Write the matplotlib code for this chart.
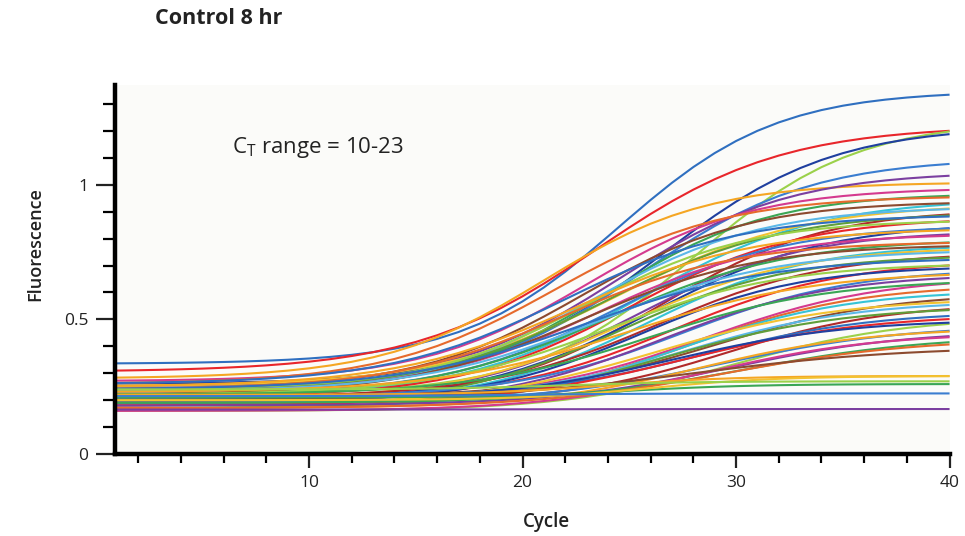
import matplotlib
matplotlib.use('Agg')
import matplotlib.pyplot as plt
from matplotlib.ticker import FixedLocator
import numpy as np

plt.rcParams['font.family'] = ['Open Sans', 'DejaVu Sans']

cycles = np.arange(1, 41)

# per-well amplification parameters
baseline = [0.335, 0.305, 0.22, 0.26, 0.24, 0.28, 0.25, 0.27, 0.23, 0.26,
            0.21, 0.24, 0.25, 0.22, 0.20, 0.23, 0.26, 0.21, 0.24, 0.19,
            0.22, 0.25, 0.20, 0.23, 0.21, 0.24, 0.19, 0.22, 0.20, 0.23,
            0.21, 0.18, 0.24, 0.20, 0.22, 0.19, 0.21, 0.23, 0.18, 0.20,
            0.22, 0.19, 0.17, 0.21, 0.18, 0.20, 0.19, 0.17, 0.21, 0.18,
            0.16, 0.20, 0.19, 0.17, 0.18, 0.16, 0.19, 0.17, 0.20, 0.22,
            0.21, 0.20, 0.215, 0.165, 0.24]
plateau = [1.35, 1.22, 1.24, 1.22, 1.10, 1.01, 1.05, 0.99, 0.97, 0.96,
           0.95, 0.94, 0.93, 0.92, 0.91, 0.90, 0.89, 0.88, 0.87, 0.86,
           0.85, 0.84, 0.83, 0.82, 0.80, 0.79, 0.78, 0.78, 0.77, 0.76,
           0.75, 0.74, 0.73, 0.72, 0.71, 0.70, 0.69, 0.68, 0.67, 0.66,
           0.65, 0.63, 0.61, 0.60, 0.58, 0.57, 0.56, 0.55, 0.53, 0.52,
           0.51, 0.50, 0.48, 0.47, 0.46, 0.45, 0.44, 0.43, 0.40, 0.29,
           0.26, 0.29, 0.225, 0.167, 0.27]
midpoint = [24.5, 23.5, 28.0, 26.5, 25.5, 21.0, 24.5, 23.0, 24.0, 21.5,
            25.5, 22.8, 24.5, 23.2, 26.5, 23.8, 22.0, 25.0, 23.0, 26.0,
            24.3, 22.5, 25.3, 23.5, 24.0, 22.0, 25.8, 22.8, 24.8, 23.6,
            26.3, 24.6, 23.0, 27.0, 24.0, 25.5, 27.5, 25.0, 26.5, 28.5,
            26.0, 28.0, 27.3, 29.0, 26.3, 27.7, 29.5, 26.7, 28.5, 27.5,
            30.0, 27.0, 29.3, 28.3, 29.7, 28.7, 30.5, 29.5, 28.0, 24.0,
            25.0, 26.0, 20.0, 20.0, 22.0]
spread = [3.7, 4.3, 3.8, 4.0, 4.0, 3.8, 4.0, 3.9, 3.8, 4.0,
          4.2, 3.9, 4.3, 4.0, 3.8, 4.2, 4.1, 4.0, 3.8, 4.1,
          4.0, 4.2, 3.9, 4.0, 4.3, 4.0, 3.8, 4.1, 4.0, 4.2,
          4.0, 3.9, 4.3, 4.0, 4.1, 3.8, 4.0, 4.4, 4.0, 4.1,
          4.2, 3.9, 4.0, 4.1, 4.3, 4.0, 3.8, 4.2, 4.0, 4.4,
          4.0, 4.1, 4.3, 4.0, 4.2, 4.0, 4.3, 4.5, 5.0, 3.0,
          3.0, 3.0, 3.0, 3.0, 3.0]

palette = ['#2f6fc0', '#e8262b', '#9bd14a', '#1f3f9f', '#3a7dd0', '#f5a623',
           '#7b3fa0', '#d43a8f', '#3aa655', '#e66a2c', '#35c3d6', '#8c4a2f',
           '#f2c230', '#5bb8e8', '#b02a2a', '#5f9e3a']
well_colors = [palette[i % len(palette)] for i in range(len(baseline))]
well_colors[58] = '#8c4a2f'
well_colors[59] = '#f5a623'
well_colors[60] = '#3aa655'
well_colors[61] = '#f2c230'
well_colors[62] = '#3a7dd0'
well_colors[63] = '#7b3fa0'
well_colors[64] = '#9bd14a'

fig = plt.figure(figsize=(9.65, 5.36), dpi=100)
fig.patch.set_facecolor('white')
ax = fig.add_axes([0.119, 0.153, 0.865, 0.688])
ax.set_facecolor('#fbfbf9')

for b, p, m, s, c in zip(baseline, plateau, midpoint, spread, well_colors):
    fl = b + (p - b) / (1 + np.exp(-(cycles - m) / s))
    ax.plot(cycles, fl, color=c, lw=1.5, solid_capstyle='butt')

ax.set_xlim(0.9, 40)
ax.set_ylim(0, 1.37)

for side in ['top', 'right']:
    ax.spines[side].set_visible(False)
for side in ['left', 'bottom']:
    ax.spines[side].set_linewidth(3.2)
    ax.spines[side].set_color('black')
    ax.spines[side].set_zorder(5)

ax.xaxis.set_major_locator(FixedLocator([10, 20, 30, 40]))
ax.xaxis.set_minor_locator(FixedLocator([2, 4, 6, 8, 12, 14, 16, 18, 22, 24, 26, 28,
                                         32, 34, 36, 38]))
ax.yaxis.set_major_locator(FixedLocator([0, 0.5, 1]))
ax.yaxis.set_minor_locator(FixedLocator([0.1, 0.2, 0.3, 0.4, 0.6, 0.7, 0.8, 0.9,
                                         1.1, 1.2, 1.3]))
ax.set_yticklabels(['0', '0.5', '1'])
ax.tick_params(axis='x', which='major', length=10, width=1.6, pad=5, labelsize=12.5, colors='#222222')
ax.tick_params(axis='x', which='minor', length=6.5, width=1.6)
ax.tick_params(axis='y', which='major', length=14, width=1.6, pad=5, labelsize=12.5, colors='#222222')
ax.tick_params(axis='y', which='minor', length=8.5, width=1.6)

ax.text(6.4, 1.14, r'C$_\mathregular{T}$ range = 10-23', fontsize=16, color='#222222',
        ha='left', va='center')

fig.text(155 / 965, 1 - 18 / 536, 'Control 8 hr', fontsize=15.5, fontweight='bold',
         color='#222222', ha='left', va='center')
fig.text(35 / 965, 1 - 244 / 536, 'Fluorescence', fontsize=13, fontweight='semibold',
         color='#222222', rotation=90, ha='center', va='center')
fig.text(546 / 965, 1 - 522 / 536, 'Cycle', fontsize=13.5, fontweight='semibold',
         color='#222222', ha='center', va='center')

fig.savefig('out.png', dpi=100, facecolor=fig.get_facecolor())
plt.close()
